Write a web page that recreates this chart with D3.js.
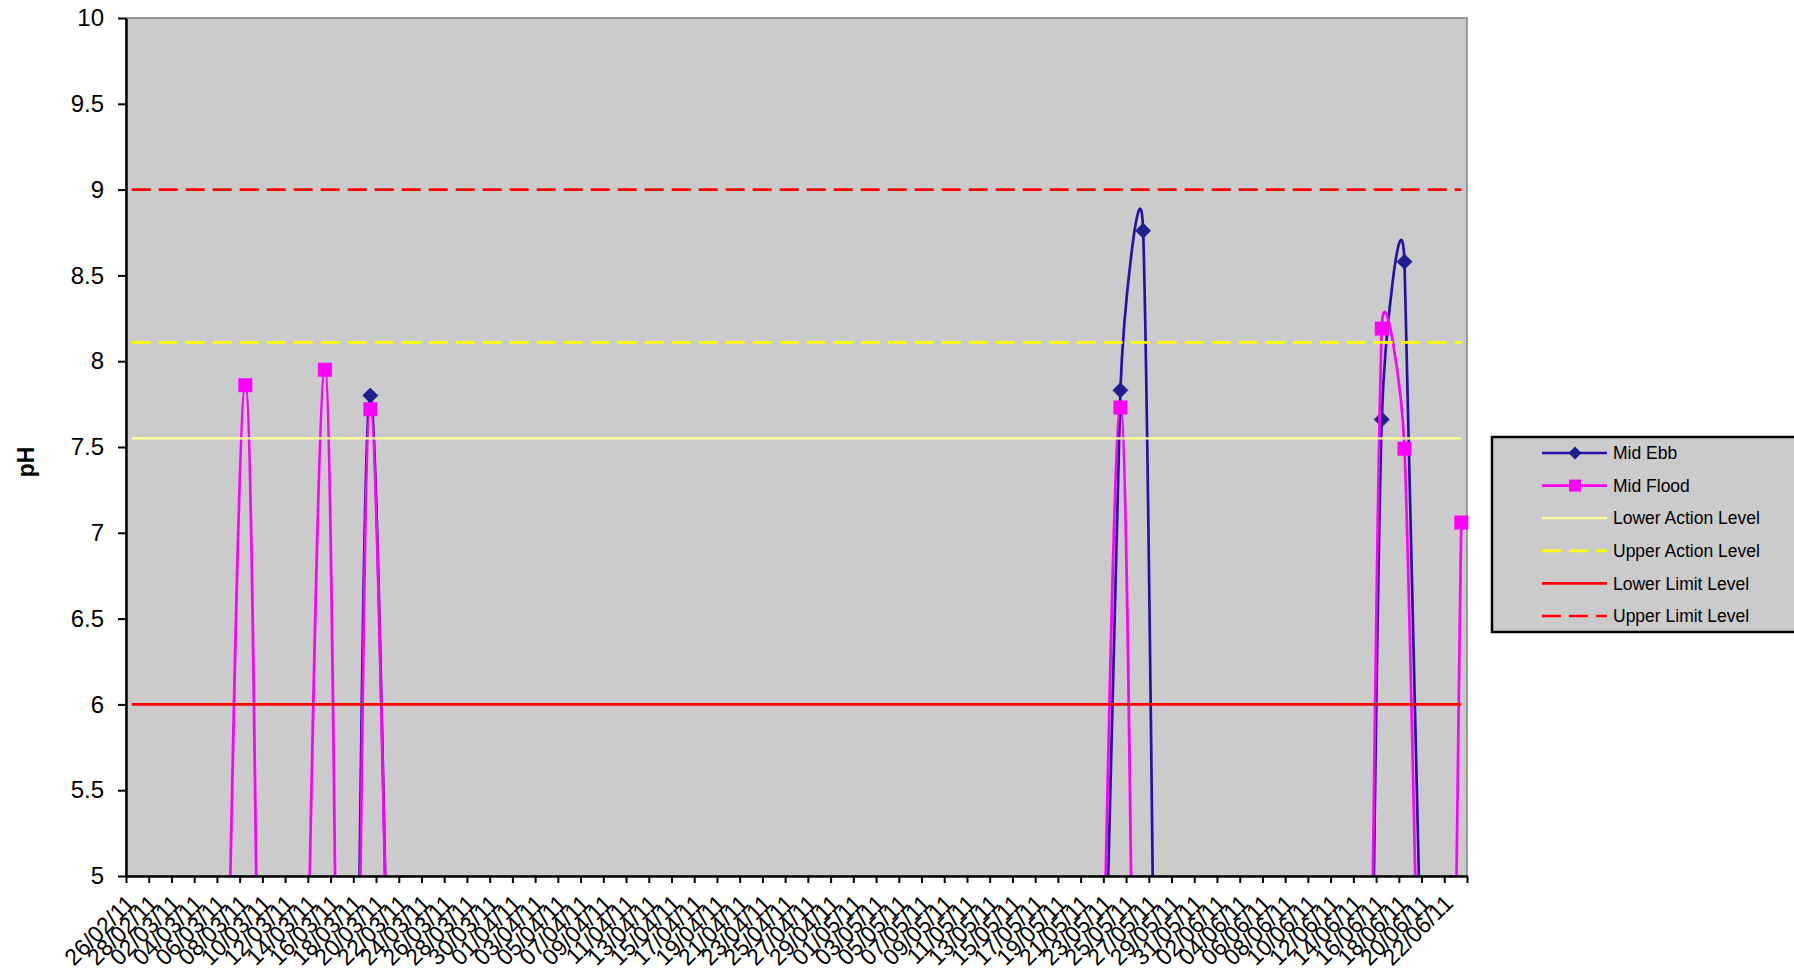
<!DOCTYPE html>
<html>
<head>
<meta charset="utf-8">
<script src="https://cdn.jsdelivr.net/npm/d3@7"></script>
<style>
  html, body { margin: 0; padding: 0; background: #ffffff; overflow: hidden; }
  svg { display: block; }
  text { font-family: "Liberation Sans", Arial, sans-serif; fill: #000; }
</style>
</head>
<body>
<svg id="chart" width="1794" height="974"></svg>
<script>
// ---------------- DATA ----------------
// Sampling dates (Tue / Thu / Sat). 0 = no reading (plotted as zero, as in the source sheet)
const sampleDates = [
  "2011-02-26","2011-03-01","2011-03-03","2011-03-05","2011-03-08","2011-03-10","2011-03-12","2011-03-15",
  "2011-03-17","2011-03-19","2011-03-22","2011-03-24","2011-03-26","2011-03-29","2011-03-31",
  "2011-04-02","2011-04-05","2011-04-07","2011-04-09","2011-04-12","2011-04-14","2011-04-16","2011-04-19",
  "2011-04-21","2011-04-23","2011-04-26","2011-04-28","2011-04-30",
  "2011-05-03","2011-05-05","2011-05-07","2011-05-10","2011-05-12","2011-05-14","2011-05-17","2011-05-19",
  "2011-05-21","2011-05-24","2011-05-26","2011-05-28","2011-05-31",
  "2011-06-02","2011-06-04","2011-06-07","2011-06-09","2011-06-11","2011-06-14","2011-06-16","2011-06-18",
  "2011-06-21","2011-06-23"
];
const midEbb = [
  0,0,0,0,0,0,0,0,0,7.80,0,0,0,0,0,
  0,0,0,0,0,0,0,0,0,0,0,0,0,
  0,0,0,0,0,0,0,0,0,7.83,8.76,0,0,
  0,0,0,0,0,0,7.66,8.58,0,0
];
const midFlood = [
  0,0,0,0,7.86,0,0,7.95,0,7.72,0,0,0,0,0,
  0,0,0,0,0,0,0,0,0,0,0,0,0,
  0,0,0,0,0,0,0,0,0,7.73,0,0,0,
  0,0,0,0,0,0,8.19,7.49,0,7.06
];
const lowerActionLevel = 7.55;
const upperActionLevel = 8.11;
const lowerLimitLevel = 6;
const upperLimitLevel = 9;
const yTickValues = [5, 5.5, 6, 6.5, 7, 7.5, 8, 8.5, 9, 9.5, 10];
const yTitle = "pH";
const legendLabels = ["Mid Ebb", "Mid Flood", "Lower Action Level", "Upper Action Level", "Lower Limit Level", "Upper Limit Level"];

// ---------------- LAYOUT ----------------
const W = 1794, H = 974;
const P = { left: 126, top: 18, right: 1467, bottom: 876 };
const plotBg = "#CBCBCB";
const ebbLine = "#2A10A8", ebbMarker = "#1E1E8C";
const floodColor = "#FF00FF";

const svg = d3.select("#chart");
const parse = d3.utcParse("%Y-%m-%d");
const dates = sampleDates.map(parse);
const xStart = dates[0];
const xEnd = d3.utcDay.offset(dates[dates.length - 1], 1);

const x = d3.scaleUtc().domain([xStart, xEnd]).range([P.left, P.right]);
const y = d3.scaleLinear().domain([5, 10]).range([P.bottom, P.top]);
const xPos = d => x(d3.utcHour.offset(d, 12)); // points sit in the middle of their day

// Excel-style smoothed line curve
function CurveExcel(context) { this._context = context; }
CurveExcel.prototype = {
  areaStart() { this._line = 0; },
  areaEnd() { this._line = NaN; },
  lineStart() { this._pts = []; },
  point(px, py) { this._pts.push([+px, +py]); },
  lineEnd() {
    const p = this._pts, c = this._context;
    if (!p.length) return;
    c.moveTo(p[0][0], p[0][1]);
    const dist = (a, b) => Math.hypot(b[0] - a[0], b[1] - a[1]);
    for (let i = 0; i < p.length - 1; i++) {
      const p1 = p[i], p2 = p[i + 1];
      const p0 = i > 0 ? p[i - 1] : p1;
      const p3 = i + 2 < p.length ? p[i + 2] : p2;
      const d12 = dist(p1, p2), d02 = dist(p0, p2), d13 = dist(p1, p3);
      let f1 = 1 / 6, f2 = 1 / 6;
      if (d02 / 6 >= d12 / 2 && d02 > 0) f1 = d12 / (2 * d02);
      if (d13 / 6 >= d12 / 2 && d13 > 0) f2 = d12 / (2 * d13);
      const c1 = [p1[0] + (p2[0] - p0[0]) * f1, p1[1] + (p2[1] - p0[1]) * f1];
      const c2 = [p2[0] - (p3[0] - p1[0]) * f2, p2[1] - (p3[1] - p1[1]) * f2];
      c.bezierCurveTo(c1[0], c1[1], c2[0], c2[1], p2[0], p2[1]);
    }
  }
};
const curveExcel = ctx => new CurveExcel(ctx);

// ---------------- PLOT AREA ----------------
svg.append("defs").append("clipPath").attr("id", "plotClip")
  .append("rect").attr("x", P.left).attr("y", P.top)
  .attr("width", P.right - P.left).attr("height", P.bottom - P.top);

svg.append("rect")
  .attr("x", P.left).attr("y", P.top)
  .attr("width", P.right - P.left).attr("height", P.bottom - P.top)
  .attr("fill", plotBg).attr("stroke", "#808080").attr("stroke-width", 1.5);

// ---------------- SERIES ----------------
const seriesLine = d3.line().x(d => xPos(d.date)).y(d => y(d.value)).curve(curveExcel);
const ebbData = dates.map((d, i) => ({ date: d, value: midEbb[i] }));
const floodData = dates.map((d, i) => ({ date: d, value: midFlood[i] }));

const gSeries = svg.append("g");
gSeries.append("path").datum(ebbData).attr("d", seriesLine)
  .attr("fill", "none").attr("stroke", ebbLine).attr("stroke-width", 2.7)
  .attr("clip-path", "url(#plotClip)");

const diamond = (cx, cy, r) => `M${cx},${cy - r}L${cx + r},${cy}L${cx},${cy + r}L${cx - r},${cy}Z`;
gSeries.selectAll("path.ebbMark").data(ebbData.filter(d => d.value >= 5)).enter()
  .append("path").attr("class", "ebbMark")
  .attr("d", d => diamond(xPos(d.date), y(d.value), 7.5))
  .attr("fill", ebbMarker).attr("stroke", ebbMarker).attr("stroke-width", 0.8);

gSeries.append("path").datum(floodData).attr("d", seriesLine)
  .attr("fill", "none").attr("stroke", floodColor).attr("stroke-width", 2.7)
  .attr("clip-path", "url(#plotClip)");

gSeries.selectAll("rect.floodMark").data(floodData.filter(d => d.value >= 5)).enter()
  .append("rect").attr("class", "floodMark")
  .attr("x", d => xPos(d.date) - 7).attr("y", d => y(d.value) - 7)
  .attr("width", 14).attr("height", 14).attr("fill", floodColor);

// ---------------- LEVEL LINES ----------------
const levels = [
  { value: lowerActionLevel, color: "#FFFF99", dash: null, w: 2.2 },
  { value: upperActionLevel, color: "#FFFF00", dash: "19 8", w: 2.7 },
  { value: lowerLimitLevel, color: "#FF0000", dash: null, w: 2.6 },
  { value: upperLimitLevel, color: "#FF0000", dash: "19 8", w: 2.7 }
];
const levelLine = d3.line().x(d => xPos(d.date)).y(d => y(d.value));
levels.forEach(l => {
  const pts = [dates[0], dates[dates.length - 1]].map(d => ({ date: d, value: l.value }));
  svg.append("path").datum(pts).attr("d", levelLine)
    .attr("fill", "none").attr("stroke", l.color).attr("stroke-width", l.w)
    .attr("stroke-dasharray", l.dash);
});

// ---------------- AXES ----------------
const tickDates = d3.utcDay.range(xStart, d3.utcDay.offset(xEnd, 1)).filter((d, i) => i % 2 === 0);
const xAxis = d3.axisBottom(x).tickValues(tickDates).tickSize(7).tickSizeOuter(0).tickFormat("");
const gx = svg.append("g").attr("transform", `translate(0,${P.bottom})`).call(xAxis);
gx.select(".domain").attr("stroke", "#000").attr("stroke-width", 2.5);
gx.selectAll(".tick line").attr("stroke", "#000").attr("stroke-width", 2);

const fmt = d3.utcFormat("%d/%m/%y");
svg.append("g").selectAll("text").data(tickDates.filter(d => +d < +xEnd)).enter()
  .append("text")
  .attr("transform", d => `translate(${x(d) + 4.5},${899}) rotate(-45)`)
  .attr("text-anchor", "end").attr("dy", "0.35em")
  .attr("font-size", 23)
  .text(d => fmt(d));

const yAxis = d3.axisLeft(y).tickValues(yTickValues).tickSize(8).tickSizeOuter(0).tickPadding(14)
  .tickFormat(d => String(d));
const gy = svg.append("g").attr("transform", `translate(${P.left},0)`).call(yAxis);
gy.select(".domain").attr("stroke", "#000").attr("stroke-width", 2.5);
gy.selectAll(".tick line").attr("stroke", "#000").attr("stroke-width", 2);
gy.selectAll(".tick text").attr("font-size", 24).attr("font-family", "Liberation Sans, Arial, sans-serif").attr("fill", "#000");

svg.append("text")
  .attr("transform", "translate(26,462) rotate(-90)")
  .attr("text-anchor", "middle").attr("dominant-baseline", "central")
  .attr("font-size", 23).attr("font-weight", "bold")
  .text(yTitle);

// ---------------- LEGEND ----------------
const lg = svg.append("g");
lg.append("rect").attr("x", 1492).attr("y", 437).attr("width", 330).attr("height", 195)
  .attr("fill", plotBg).attr("stroke", "#000").attr("stroke-width", 2.5);
const legendStyles = [
  { color: ebbLine, dash: null, w: 2.7, marker: "diamond" },
  { color: floodColor, dash: null, w: 2.7, marker: "square" },
  { color: "#FFFF99", dash: null, w: 2.2 },
  { color: "#FFFF00", dash: "19 8", w: 2.7 },
  { color: "#FF0000", dash: null, w: 2.6 },
  { color: "#FF0000", dash: "19 8", w: 2.7 }
];
legendLabels.forEach((lab, i) => {
  const cy = 453 + i * 32.6;
  const s = legendStyles[i];
  lg.append("line").attr("x1", 1542).attr("x2", 1607).attr("y1", cy).attr("y2", cy)
    .attr("stroke", s.color).attr("stroke-width", s.w).attr("stroke-dasharray", s.dash);
  if (s.marker === "diamond") {
    lg.append("path").attr("d", diamond(1575, cy, 6.5)).attr("fill", ebbMarker);
  } else if (s.marker === "square") {
    lg.append("rect").attr("x", 1569).attr("y", cy - 6).attr("width", 12).attr("height", 12).attr("fill", floodColor);
  }
  lg.append("text").attr("x", 1613).attr("y", cy).attr("dy", "0.35em")
    .attr("font-size", 17.5).text(lab);
});
</script>
</body>
</html>
